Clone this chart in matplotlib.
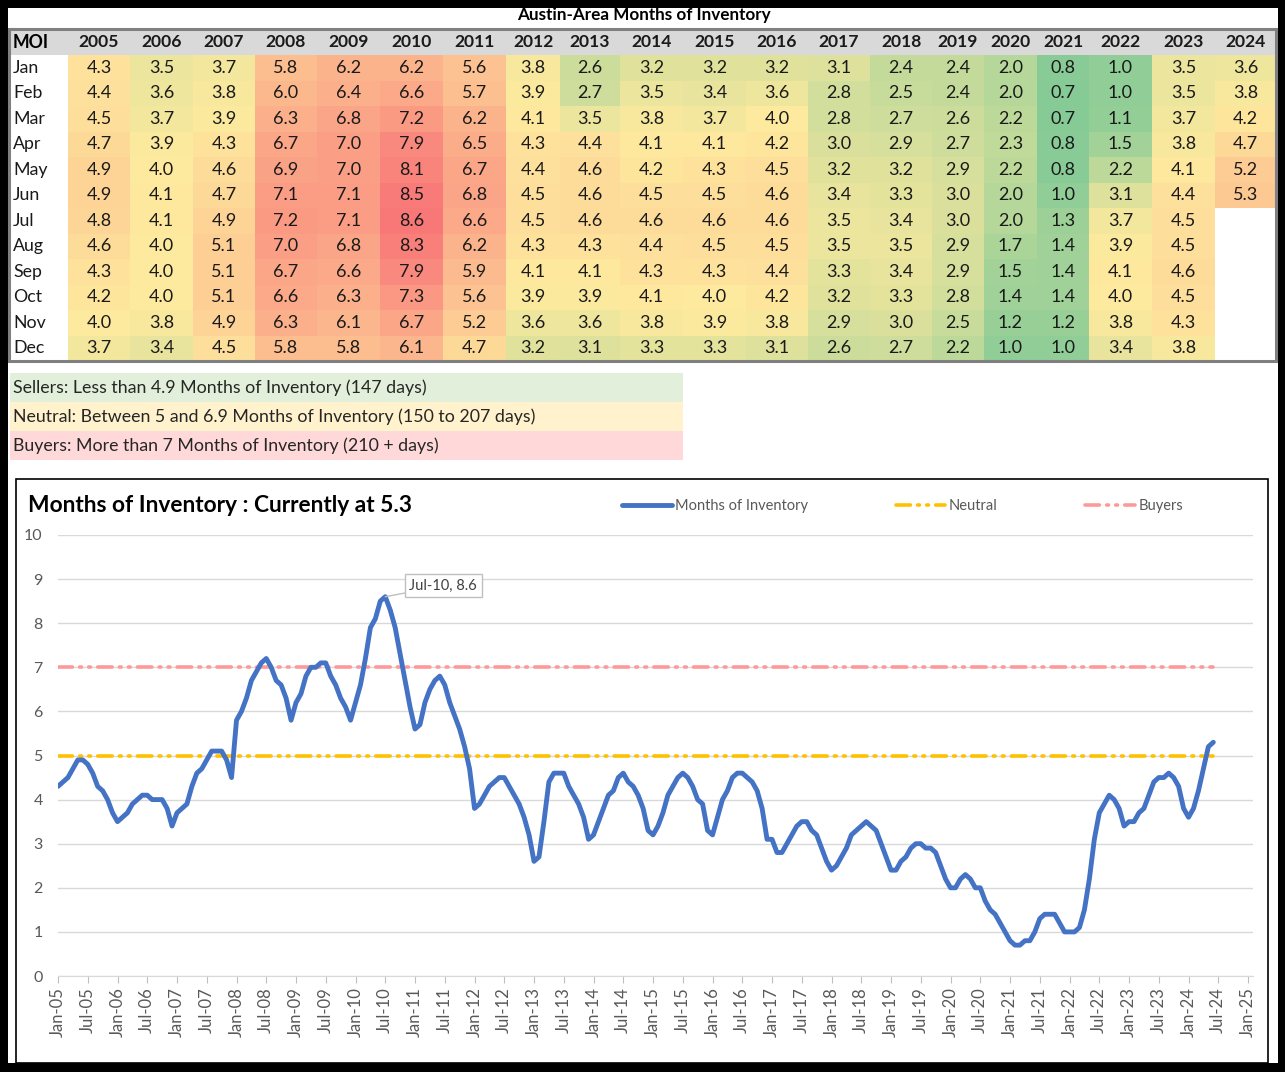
import numpy as np
import matplotlib.pyplot as plt
from matplotlib.patches import Rectangle
from matplotlib.colors import LinearSegmentedColormap, TwoSlopeNorm

# monthly months-of-inventory, Jan..Dec, one list per year
y2005 = [4.3, 4.4, 4.5, 4.7, 4.9, 4.9, 4.8, 4.6, 4.3, 4.2, 4.0, 3.7]
y2006 = [3.5, 3.6, 3.7, 3.9, 4.0, 4.1, 4.1, 4.0, 4.0, 4.0, 3.8, 3.4]
y2007 = [3.7, 3.8, 3.9, 4.3, 4.6, 4.7, 4.9, 5.1, 5.1, 5.1, 4.9, 4.5]
y2008 = [5.8, 6.0, 6.3, 6.7, 6.9, 7.1, 7.2, 7.0, 6.7, 6.6, 6.3, 5.8]
y2009 = [6.2, 6.4, 6.8, 7.0, 7.0, 7.1, 7.1, 6.8, 6.6, 6.3, 6.1, 5.8]
y2010 = [6.2, 6.6, 7.2, 7.9, 8.1, 8.5, 8.6, 8.3, 7.9, 7.3, 6.7, 6.1]
y2011 = [5.6, 5.7, 6.2, 6.5, 6.7, 6.8, 6.6, 6.2, 5.9, 5.6, 5.2, 4.7]
y2012 = [3.8, 3.9, 4.1, 4.3, 4.4, 4.5, 4.5, 4.3, 4.1, 3.9, 3.6, 3.2]
y2013 = [2.6, 2.7, 3.5, 4.4, 4.6, 4.6, 4.6, 4.3, 4.1, 3.9, 3.6, 3.1]
y2014 = [3.2, 3.5, 3.8, 4.1, 4.2, 4.5, 4.6, 4.4, 4.3, 4.1, 3.8, 3.3]
y2015 = [3.2, 3.4, 3.7, 4.1, 4.3, 4.5, 4.6, 4.5, 4.3, 4.0, 3.9, 3.3]
y2016 = [3.2, 3.6, 4.0, 4.2, 4.5, 4.6, 4.6, 4.5, 4.4, 4.2, 3.8, 3.1]
y2017 = [3.1, 2.8, 2.8, 3.0, 3.2, 3.4, 3.5, 3.5, 3.3, 3.2, 2.9, 2.6]
y2018 = [2.4, 2.5, 2.7, 2.9, 3.2, 3.3, 3.4, 3.5, 3.4, 3.3, 3.0, 2.7]
y2019 = [2.4, 2.4, 2.6, 2.7, 2.9, 3.0, 3.0, 2.9, 2.9, 2.8, 2.5, 2.2]
y2020 = [2.0, 2.0, 2.2, 2.3, 2.2, 2.0, 2.0, 1.7, 1.5, 1.4, 1.2, 1.0]
y2021 = [0.8, 0.7, 0.7, 0.8, 0.8, 1.0, 1.3, 1.4, 1.4, 1.4, 1.2, 1.0]
y2022 = [1.0, 1.0, 1.1, 1.5, 2.2, 3.1, 3.7, 3.9, 4.1, 4.0, 3.8, 3.4]
y2023 = [3.5, 3.5, 3.7, 3.8, 4.1, 4.4, 4.5, 4.5, 4.6, 4.5, 4.3, 3.8]
y2024 = [3.6, 3.8, 4.2, 4.7, 5.2, 5.3]

years = list(range(2005, 2025))
table = [y2005, y2006, y2007, y2008, y2009, y2010, y2011, y2012, y2013, y2014,
         y2015, y2016, y2017, y2018, y2019, y2020, y2021, y2022, y2023, y2024]
months = ['Jan', 'Feb', 'Mar', 'Apr', 'May', 'Jun',
          'Jul', 'Aug', 'Sep', 'Oct', 'Nov', 'Dec']

neutral_level = 5
buyers_level = 7

legend_rows = ["Sellers: Less than 4.9 Months of Inventory (147 days)",
               "Neutral: Between 5 and 6.9 Months of Inventory (150 to 207 days)",
               "Buyers: More than 7 Months of Inventory (210 + days)"]

series = np.concatenate([np.array(y) for y in table])
x = np.arange(len(series))

plt.rcParams['font.family'] = ['Lato', 'DejaVu Sans']

W, H = 1285, 1072
fig = plt.figure(figsize=(W / 100, H / 100), dpi=100, facecolor='black')
bg = fig.add_axes([0, 0, 1, 1])
bg.set_xlim(0, W)
bg.set_ylim(H, 0)
bg.axis('off')
bg.add_patch(Rectangle((8, 8), 1270, 1055, fc='white', ec='none'))

# ---- heat table ----
bg.text(644, 15, "Austin-Area Months of Inventory", ha='center', va='center',
        fontsize=12.3, fontweight='bold', color='black')
bg.add_patch(Rectangle((8, 28), 1269, 27, fc='#D9D9D9', ec='none'))
bg.text(13, 42, "MOI", ha='left', va='center', fontsize=12.8, fontweight='bold')

col_edges = [68, 130, 193, 255, 317, 380, 443, 506, 560, 620, 683, 746, 808,
             870, 932, 984, 1037, 1089, 1152, 1215, 1276]
row_top = 55
row_h = 25.5

cmap = LinearSegmentedColormap.from_list('moi', ['#86CA96', '#FEEA9E', '#F87878'])
norm = TwoSlopeNorm(vmin=series.min(), vcenter=np.percentile(series, 50),
                    vmax=series.max())

for i, m in enumerate(months):
    bg.text(13, row_top + row_h * (i + 0.5), m, ha='left', va='center',
            fontsize=12.8, color='#1a1a1a')

for j, col in enumerate(table):
    x0, x1 = col_edges[j], col_edges[j + 1]
    cx = (x0 + x1) / 2
    bg.text(cx, 42, str(years[j]), ha='center', va='center', fontsize=12.6,
            fontweight='bold', color='#1a1a1a')
    for i, v in enumerate(col):
        y0 = row_top + row_h * i
        bg.add_patch(Rectangle((x0, y0), x1 - x0, row_h, fc=cmap(norm(v)), ec='none'))
        bg.text(cx, y0 + row_h / 2, f"{v:.1f}", ha='center', va='center',
                fontsize=13, color='#1a1a1a')

bg.add_patch(Rectangle((9, 28.5), 1267, 332, fill=False, ec='#808080', lw=2.2))

# ---- market legend boxes ----
box_colors = ['#E2EFDA', '#FFF2CC', '#FFD9D9']
for k, (txt, c) in enumerate(zip(legend_rows, box_colors)):
    y0 = 373 + 29 * k
    bg.add_patch(Rectangle((10, y0), 673, 29, fc=c, ec='none'))
    bg.text(13, y0 + 14.5, txt, ha='left', va='center', fontsize=12.8, color='#262626')

# ---- line chart ----
bg.add_patch(Rectangle((15.5, 478.5), 1252, 584, fc='white', ec='black', lw=1.2))
bg.text(28, 506, "Months of Inventory : Currently at 5.3", ha='left', va='center',
        fontsize=16.4, fontweight='bold', color='black')

ax = fig.add_axes([58 / W, (H - 976) / H, (1253 - 58) / W, (976 - 535) / H])
ax.patch.set_alpha(0)
ax.set_xlim(0, 241)
ax.set_ylim(0, 10)

ax.plot(x, series, color='#4472C4', lw=3.5, solid_joinstyle='round',
        solid_capstyle='round', label='Months of Inventory', zorder=4)
ax.plot(x, np.full(len(x), neutral_level), color='#FFC000', lw=2.6,
        dashes=(4, 2, 0.5, 2, 0.5, 2), dash_capstyle='round', label='Neutral', zorder=3)
ax.plot(x, np.full(len(x), buyers_level), color='#FF9999', lw=2.6,
        dashes=(4, 2, 0.5, 2, 0.5, 2), dash_capstyle='round', label='Buyers', zorder=3)

peak = int(np.argmax(series))
ax.annotate(f"{months[peak % 12]}-{(5 + peak // 12):02d}, {series[peak]:.1f}",
            xy=(x[peak], series[peak]), xytext=(58, 11), textcoords='offset pixels',
            ha='center', va='center', fontsize=10.5, color='#404040',
            bbox=dict(boxstyle='square,pad=0.3', fc='white', ec='#BFBFBF', lw=1),
            arrowprops=dict(arrowstyle='-', color='#BFBFBF', lw=1, shrinkA=0, shrinkB=0),
            zorder=5)

ax.set_yticks(range(0, 11))
ax.grid(axis='y', color='#D9D9D9', lw=1)
ax.set_axisbelow(True)
ticks = list(range(0, 241, 6))
ax.set_xticks(ticks)
ax.set_xticklabels([f"{'Jan' if t % 12 == 0 else 'Jul'}-{(5 + t // 12):02d}" for t in ticks],
                   rotation=90, fontsize=12, color='#595959')
ax.tick_params(axis='y', length=0, labelsize=11.5, labelcolor='#595959', pad=11)
ax.tick_params(axis='x', length=5, color='#BFBFBF', pad=3)
for s in ['top', 'right', 'left']:
    ax.spines[s].set_visible(False)
ax.spines['bottom'].set_color('#D9D9D9')

fig.legend(loc='center left', bbox_to_anchor=(622 / W, 1 - 506 / H), ncol=3,
           frameon=False, fontsize=10.5, labelcolor='#595959', handlelength=3.4,
           handletextpad=0.25, columnspacing=6.0, borderpad=0, borderaxespad=0)

fig.savefig('out.png', dpi=100, facecolor=fig.get_facecolor())
